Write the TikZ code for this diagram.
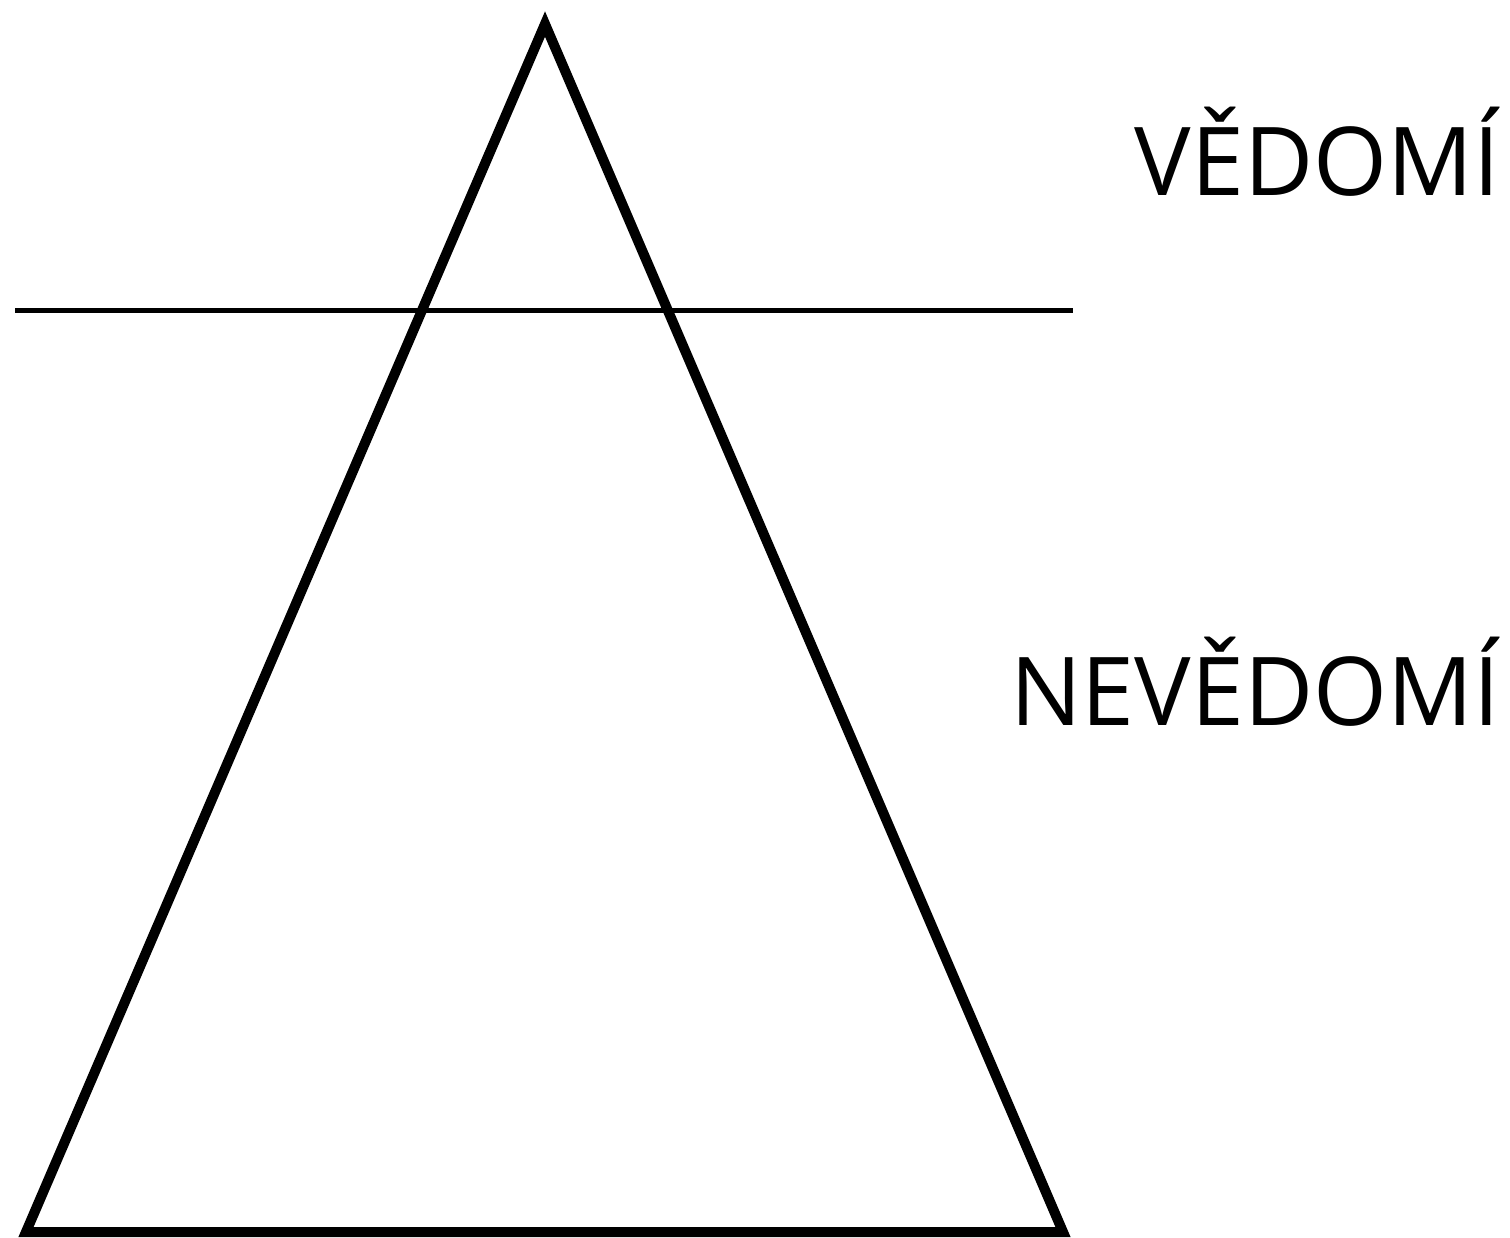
\documentclass[tikz,border=0pt]{standalone}
\usepackage{fontspec}
\setmainfont{Open Sans}
\begin{document}
\begin{tikzpicture}[x=0.5pt,y=-0.5pt,font=\fontsize{47.5}{57}\selectfont]
\useasboundingbox (0,0) rectangle (1510,1237);
\coordinate (apex) at (545,24);
\coordinate (baseL) at (26,1232);
\coordinate (baseR) at (1063,1232);
\draw[line width=5pt,miter limit=20] (apex)--(baseL)--(baseR)--cycle;
\coordinate (lineL) at (15,310);
\coordinate (lineR) at (1073,310);
\draw[line width=2.5pt] (lineL)--(lineR);
\node[anchor=base east,inner sep=0pt] (vedomi) at (1500,195) {VĚDOMÍ};
\node[anchor=base east,inner sep=0pt] (nevedomi) at (1500,725) {NEVĚDOMÍ};
\end{tikzpicture}
\end{document}
